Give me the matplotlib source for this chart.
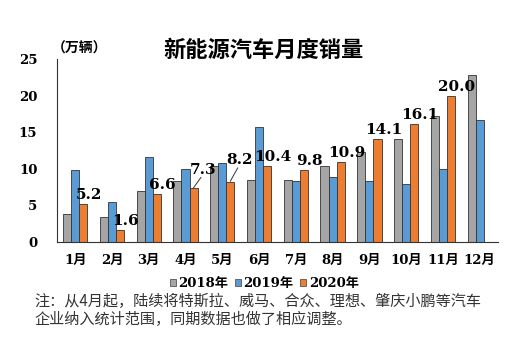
import matplotlib.pyplot as plt
import numpy as np
from matplotlib.patches import Patch

plt.rcParams['font.family'] = ['DejaVu Serif', 'Noto Sans CJK SC']

months = ['1月', '2月', '3月', '4月', '5月', '6月', '7月', '8月', '9月', '10月', '11月', '12月']
sales_2018 = [3.8, 3.45, 6.9, 8.3, 10.4, 8.5, 8.5, 10.3, 12.3, 14.0, 17.2, 22.8]
sales_2019 = [9.8, 5.4, 11.6, 10.0, 10.8, 15.7, 8.3, 8.8, 8.3, 7.9, 9.9, 16.7]
sales_2020 = [5.2, 1.6, 6.6, 7.3, 8.2, 10.4, 9.8, 10.9, 14.1, 16.1, 20.0]
labels_2020 = ['5.2', '1.6', '6.6', '7.3', '8.2', '10.4', '9.8', '10.9', '14.1', '16.1', '20.0']
years = ['2018年', '2019年', '2020年']
colors = ['#A5A5A5', '#5B9BD5', '#ED7D31']

fig = plt.figure(figsize=(5.21, 3.53), dpi=100)
ax = fig.add_axes([0.109, 0.315, 0.847, 0.518])

x = np.arange(len(months)) + 0.5
w = 0.22
ax.bar(x - w, sales_2018, w, color=colors[0], edgecolor='#333333', linewidth=0.6)
ax.bar(x, sales_2019, w, color=colors[1], edgecolor='#333333', linewidth=0.6)
x20 = x[:len(sales_2020)] + w
ax.bar(x20, sales_2020, w, color=colors[2], edgecolor='#333333', linewidth=0.6)

# data labels for 2020
for i, (xx, v, t) in enumerate(zip(x20, sales_2020, labels_2020)):
    if i in (3, 4):
        ly = v + 1.6 if i == 3 else v + 2.0
        ax.plot([xx, xx + 0.2], [v + 0.1, ly - 0.1], color='#333333', lw=0.7)
        ax.text(xx + 0.25, ly, t, ha='center', va='bottom', fontsize=11, fontweight='bold')
    else:
        ax.text(xx + 0.16, v + 0.25, t, ha='center', va='bottom', fontsize=11, fontweight='bold')

ax.set_xlim(0, 12)
ax.set_ylim(0, 25)
ax.set_yticks([0, 5, 10, 15, 20, 25])
ax.set_xticks(x)
ax.set_xticklabels(months, fontsize=9.5, fontweight='bold')
ax.tick_params(axis='both', length=0)
ax.tick_params(axis='x', pad=9)
ax.tick_params(axis='y', labelsize=9.5, pad=14)
for lab in ax.get_yticklabels():
    lab.set_fontweight('bold')
ax.spines['top'].set_visible(False)
ax.spines['right'].set_visible(False)
ax.spines['left'].set_color('#333333')
ax.spines['bottom'].set_color('#333333')

fig.text(0.505, 0.858, '新能源汽车月度销量', ha='center', va='center',
         fontsize=16, fontweight='bold', family=['Noto Sans CJK SC'])
fig.text(0.10, 0.862, '（万辆）', ha='left', va='center',
         fontsize=10, fontweight='bold', family=['Noto Sans CJK SC'])

handles = [Patch(facecolor=c, edgecolor='#555555', linewidth=0.6) for c in colors]
fig.legend(handles, years, loc='center', bbox_to_anchor=(0.507, 0.196), ncol=3,
           frameon=False, handlelength=0.45, handleheight=0.45,
           handletextpad=0.2, columnspacing=0.5, prop={'weight': 'bold', 'size': 9.5})

fig.text(0.067, 0.12, '注：从4月起，陆续将特斯拉、威马、合众、理想、肇庆小鹏等汽车\n企业纳入统计范围，同期数据也做了相应调整。',
         ha='left', va='center', fontsize=10.9, color='#333333', linespacing=1.05,
         family=['Noto Sans CJK SC'])

fig.savefig('out.png', dpi=100)
